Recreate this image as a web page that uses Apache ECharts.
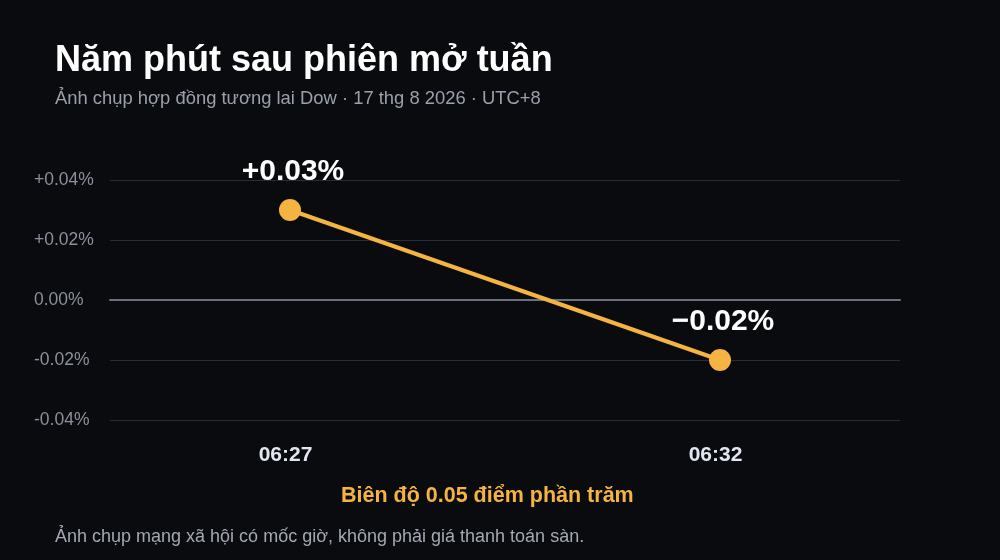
<!DOCTYPE html>
<html>
<head>
<meta charset="utf-8">
<style>
  html, body { margin: 0; padding: 0; background: #0a0b0f; }
  #chart { width: 1000px; height: 560px; }
</style>
<script src="https://cdn.jsdelivr.net/npm/echarts@6/dist/echarts.min.js"></script>
</head>
<body>
<div id="chart"></div>
<script>
// thời điểm chụp và thay đổi (%)
var times = ['06:27', '06:32'];
var changes = [0.03, -0.02];
var yTicks = [-0.04, -0.02, 0, 0.02, 0.04];

var FONT = '"Liberation Sans", Arial, Helvetica, sans-serif';

function fmtPct(v, digits) {
    if (Math.abs(v) < 1e-9) return (0).toFixed(digits) + '%';
    return (v > 0 ? '+' : '-') + Math.abs(v).toFixed(digits) + '%';
}

var points = changes.map(function(v, i) { return [i, v]; });

var chart = echarts.init(document.getElementById('chart'));
var option = {
    backgroundColor: '#0a0b0f',
    animation: false,
    title: {
        text: 'Năm phút sau phiên mở tuần',
        subtext: 'Ảnh chụp hợp đồng tương lai Dow · 17 thg 8 2026 · UTC+8',
        left: 50,
        top: 38,
        itemGap: 11,
        textStyle: {
            color: '#ffffff',
            fontSize: 36,
            fontWeight: 'bold',
            fontFamily: FONT
        },
        subtextStyle: {
            color: '#9aa0ab',
            fontSize: 18.4,
            fontFamily: FONT
        }
    },
    grid: {
        left: 110,
        right: 100,
        top: 180,
        bottom: 140
    },
    xAxis: {
        type: 'value',
        min: -0.4186,
        max: 1.4186,
        splitLine: { show: false },
        axisTick: { show: false },
        axisLine: {
            show: true,
            onZero: true,
            lineStyle: { color: '#6b7080', width: 2 }
        },
        axisLabel: {
            customValues: [0, 1],
            margin: 25,
            padding: [0, 9, 0, 0],
            color: '#e2e6f0',
            fontSize: 21,
            fontWeight: 'bold',
            fontFamily: FONT,
            formatter: function(v) {
                return times[Math.round(v)];
            }
        }
    },
    yAxis: {
        type: 'value',
        min: yTicks[0],
        max: yTicks[yTicks.length - 1],
        interval: 0.02,
        axisLine: { show: false },
        axisTick: { show: false },
        splitLine: {
            lineStyle: { color: '#2a2c33', width: 1 }
        },
        axisLabel: {
            align: 'left',
            margin: 76,
            color: '#8b909b',
            fontSize: 17.5,
            fontFamily: FONT,
            formatter: function(v) {
                return fmtPct(v, 2);
            }
        }
    },
    series: [{
        type: 'line',
        data: points,
        symbol: 'circle',
        symbolSize: 22,
        lineStyle: { color: '#f5b342', width: 4 },
        itemStyle: { color: '#f5b342' },
        label: {
            show: true,
            position: 'top',
            distance: 12,
            offset: [3, 0],
            color: '#ffffff',
            fontSize: 30,
            fontWeight: 'bold',
            fontFamily: FONT,
            formatter: function(p) {
                var v = p.value[1];
                return (v > 0 ? '+' : '\u2212') + Math.abs(v).toFixed(2) + '%';
            }
        }
    }],
    graphic: [{
        type: 'text',
        left: 341,
        top: 485,
        style: {
            text: 'Biên độ 0.05 điểm phần trăm',
            fill: '#f5b342',
            fontSize: 21.5,
            fontWeight: 'bold',
            fontFamily: FONT
        }
    }, {
        type: 'text',
        left: 55,
        top: 528,
        style: {
            text: 'Ảnh chụp mạng xã hội có mốc giờ, không phải giá thanh toán sàn.',
            fill: '#a3a8b3',
            fontSize: 18,
            fontFamily: FONT
        }
    }]
};
chart.setOption(option);
</script>
</body>
</html>
